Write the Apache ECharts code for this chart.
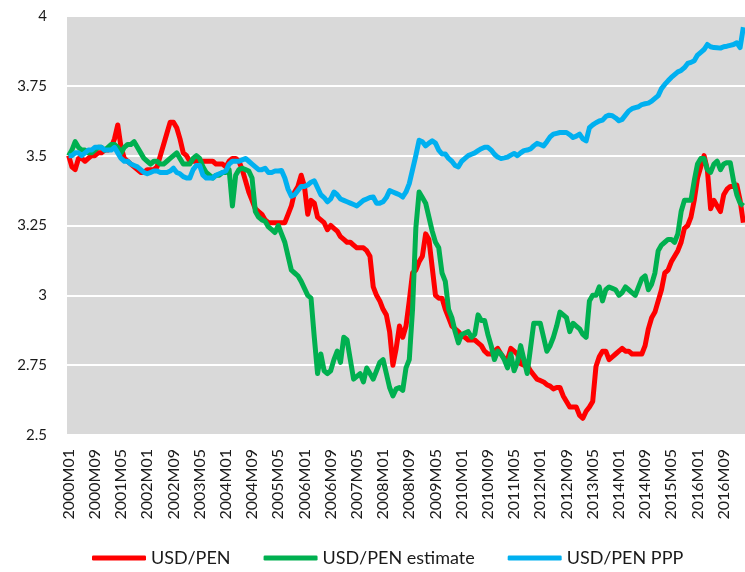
<!DOCTYPE html>
<html>
<head>
<meta charset="utf-8">
<script src="https://cdn.jsdelivr.net/npm/echarts@6/dist/echarts.min.js"></script>
<style>
  html, body { margin: 0; padding: 0; background: #fff; }
  #chart { width: 745px; height: 572px; }
</style>
</head>
<body>
<div id="chart"></div>
<script>
// monthly, 2000M01 .. 2017M03
var months = [];
for (var yr = 2000; yr <= 2017; yr++) {
  for (var m = 1; m <= 12; m++) {
    if (yr === 2017 && m > 3) break;
    months.push(yr + 'M' + (m < 10 ? '0' + m : m));
  }
}

var usdPen = [
  3.50, 3.46, 3.45, 3.49, 3.49, 3.48, 3.49, 3.50, 3.50, 3.51,
  3.51, 3.52, 3.52, 3.53, 3.56, 3.61, 3.53, 3.49, 3.48, 3.47,
  3.46, 3.45, 3.44, 3.44, 3.45, 3.45, 3.45, 3.46, 3.50, 3.54,
  3.58, 3.62, 3.62, 3.60, 3.56, 3.51, 3.50, 3.48, 3.48, 3.48,
  3.48, 3.48, 3.48, 3.48, 3.48, 3.47, 3.47, 3.47, 3.46, 3.48,
  3.49, 3.49, 3.48, 3.45, 3.41, 3.37, 3.34, 3.31, 3.30, 3.29,
  3.27, 3.26, 3.26, 3.26, 3.26, 3.26, 3.26, 3.29, 3.32, 3.37,
  3.39, 3.43, 3.39, 3.29, 3.34, 3.33, 3.28, 3.27, 3.26, 3.235,
  3.25, 3.24, 3.23, 3.21, 3.20, 3.19, 3.19, 3.18, 3.17, 3.17,
  3.17, 3.16, 3.14, 3.03, 3.00, 2.98, 2.95, 2.93, 2.87, 2.75,
  2.81, 2.89, 2.85, 2.89, 2.98, 3.08, 3.09, 3.12, 3.14, 3.22,
  3.20, 3.10, 3.00, 2.99, 2.99, 2.95, 2.92, 2.89, 2.88, 2.87,
  2.855, 2.85, 2.84, 2.84, 2.84, 2.83, 2.82, 2.80, 2.79, 2.79,
  2.80, 2.81, 2.79, 2.775, 2.77, 2.81, 2.80, 2.79, 2.755, 2.75,
  2.75, 2.73, 2.715, 2.70, 2.695, 2.69, 2.68, 2.675, 2.665, 2.67,
  2.67, 2.64, 2.62, 2.60, 2.60, 2.60, 2.57, 2.56, 2.585, 2.60,
  2.62, 2.745, 2.78, 2.80, 2.80, 2.77, 2.78, 2.79, 2.80, 2.81,
  2.80, 2.80, 2.79, 2.79, 2.79, 2.79, 2.82, 2.88, 2.92, 2.94,
  2.98, 3.02, 3.08, 3.09, 3.12, 3.14, 3.16, 3.19, 3.24, 3.25,
  3.28, 3.34, 3.42, 3.46, 3.50, 3.45, 3.31, 3.34, 3.32, 3.30,
  3.36, 3.38, 3.39, 3.39, 3.395, 3.34, 3.26
];

var usdPenEstimate = [
  3.50, 3.52, 3.55, 3.53, 3.52, 3.52, 3.51, 3.51, 3.52, 3.53,
  3.53, 3.52, 3.53, 3.54, 3.54, 3.53, 3.51, 3.53, 3.54, 3.54,
  3.55, 3.53, 3.51, 3.49, 3.48, 3.47, 3.48, 3.48, 3.47, 3.47,
  3.48, 3.49, 3.50, 3.51, 3.49, 3.47, 3.47, 3.47, 3.49, 3.50,
  3.49, 3.46, 3.44, 3.43, 3.42, 3.43, 3.43, 3.44, 3.44, 3.45,
  3.32, 3.43, 3.45, 3.455, 3.45, 3.445, 3.42, 3.30, 3.28, 3.27,
  3.265, 3.245, 3.235, 3.225, 3.25, 3.22, 3.19, 3.14, 3.09, 3.08,
  3.07, 3.05, 3.025, 3.00, 2.99, 2.85, 2.72, 2.79, 2.73, 2.72,
  2.73, 2.77, 2.80, 2.76, 2.85, 2.84, 2.77, 2.70, 2.71, 2.72,
  2.69, 2.74, 2.72, 2.70, 2.73, 2.76, 2.77, 2.72, 2.67, 2.64,
  2.665, 2.67, 2.66, 2.74, 2.77, 2.95, 3.24, 3.37, 3.35, 3.33,
  3.28, 3.23, 3.19, 3.17, 3.08, 3.05, 2.95, 2.92, 2.87, 2.83,
  2.86, 2.865, 2.87, 2.85, 2.86, 2.93, 2.91, 2.91, 2.86, 2.82,
  2.77, 2.80, 2.79, 2.77, 2.74, 2.79, 2.73, 2.76, 2.82, 2.77,
  2.72, 2.81, 2.90, 2.90, 2.90, 2.85, 2.80, 2.82, 2.85, 2.89,
  2.94, 2.93, 2.92, 2.87, 2.90, 2.89, 2.88, 2.86, 2.85, 2.98,
  3.00, 3.00, 3.03, 2.98, 3.02, 3.03, 3.025, 3.02, 3.00, 3.01,
  3.03, 3.02, 3.01, 3.00, 3.03, 3.06, 3.07, 3.02, 3.04, 3.08,
  3.16, 3.18, 3.19, 3.20, 3.20, 3.19, 3.22, 3.30, 3.34, 3.34,
  3.34, 3.41, 3.47, 3.49, 3.49, 3.45, 3.44, 3.47, 3.48, 3.45,
  3.47, 3.475, 3.475, 3.41, 3.36, 3.33, 3.32
];

var usdPenPpp = [
  3.50, 3.50, 3.51, 3.51, 3.50, 3.51, 3.52, 3.52, 3.53, 3.53,
  3.53, 3.52, 3.52, 3.52, 3.53, 3.51, 3.49, 3.48, 3.48, 3.47,
  3.465, 3.46, 3.45, 3.44, 3.435, 3.44, 3.445, 3.445, 3.44, 3.44,
  3.44, 3.445, 3.455, 3.44, 3.435, 3.425, 3.42, 3.42, 3.45, 3.465,
  3.465, 3.43, 3.42, 3.42, 3.42, 3.43, 3.435, 3.44, 3.445, 3.47,
  3.48, 3.48, 3.48, 3.485, 3.49, 3.48, 3.47, 3.46, 3.45, 3.45,
  3.455, 3.44, 3.44, 3.445, 3.445, 3.447, 3.42, 3.38, 3.355, 3.36,
  3.375, 3.39, 3.39, 3.395, 3.405, 3.41, 3.385, 3.36, 3.35, 3.335,
  3.345, 3.37, 3.36, 3.345, 3.34, 3.335, 3.33, 3.325, 3.32, 3.33,
  3.34, 3.345, 3.35, 3.352, 3.33, 3.33, 3.335, 3.35, 3.375, 3.37,
  3.365, 3.36, 3.352, 3.37, 3.40, 3.45, 3.50, 3.555, 3.55, 3.535,
  3.545, 3.553, 3.545, 3.52, 3.506, 3.506, 3.49, 3.48, 3.465, 3.46,
  3.48, 3.49, 3.50, 3.505, 3.51, 3.518, 3.525, 3.53, 3.53, 3.52,
  3.505, 3.495, 3.49, 3.492, 3.495, 3.502, 3.508, 3.50, 3.51, 3.518,
  3.52, 3.524, 3.535, 3.544, 3.54, 3.535, 3.55, 3.567, 3.577, 3.58,
  3.583, 3.583, 3.583, 3.575, 3.565, 3.57, 3.577, 3.56, 3.553, 3.60,
  3.61, 3.618, 3.624, 3.627, 3.64, 3.645, 3.643, 3.635, 3.625, 3.63,
  3.645, 3.66, 3.668, 3.672, 3.675, 3.683, 3.686, 3.688, 3.695, 3.705,
  3.715, 3.74, 3.755, 3.768, 3.78, 3.79, 3.80, 3.805, 3.815, 3.83,
  3.834, 3.84, 3.86, 3.87, 3.88, 3.898, 3.89, 3.887, 3.886, 3.885,
  3.89, 3.892, 3.895, 3.898, 3.904, 3.887, 3.96
];

var seriesNames = ['USD/PEN', 'USD/PEN estimate', 'USD/PEN PPP'];
var seriesColors = ['#ff0000', '#00b050', '#00b0f0'];
var seriesData = [usdPen, usdPenEstimate, usdPenPpp];

var font = 'Lato, "Open Sans", sans-serif';

var chart = echarts.init(document.getElementById('chart'));
chart.setOption({
  animation: false,
  backgroundColor: '#ffffff',
  grid: {
    left: 67,
    right: 0,
    top: 16,
    bottom: 137,
    show: true,
    backgroundColor: '#d9d9d9',
    borderWidth: 0,
    containLabel: false,
    outerBoundsMode: 'none'
  },
  legend: {
    data: seriesNames,
    left: 92,
    top: 549,
    padding: 0,
    icon: 'roundRect',
    itemWidth: 54,
    itemHeight: 5,
    itemGap: 33,
    textStyle: { fontFamily: font, fontSize: 18, color: '#1a1a1a' }
  },
  xAxis: {
    type: 'category',
    data: months,
    boundaryGap: true,
    axisLine: { show: false },
    axisTick: { show: false },
    splitLine: { show: false },
    axisLabel: {
      interval: 7,
      rotate: 90,
      margin: 14,
      fontFamily: font,
      fontSize: 16,
      color: '#1a1a1a'
    }
  },
  yAxis: {
    type: 'value',
    min: 2.5,
    max: 4,
    interval: 0.25,
    axisLine: { show: false },
    axisTick: { show: false },
    splitLine: { lineStyle: { color: '#ffffff', width: 2 } },
    axisLabel: {
      margin: 20,
      fontFamily: font,
      fontSize: 15,
      color: '#1a1a1a'
    }
  },
  series: seriesNames.map(function (name, k) {
    return {
      name: name,
      type: 'line',
      data: seriesData[k],
      showSymbol: false,
      symbol: 'none',
      smooth: false,
      color: seriesColors[k],
      itemStyle: { color: seriesColors[k] },
      lineStyle: { color: seriesColors[k], width: 5, join: 'round' }
    };
  })
});
</script>
</body>
</html>
